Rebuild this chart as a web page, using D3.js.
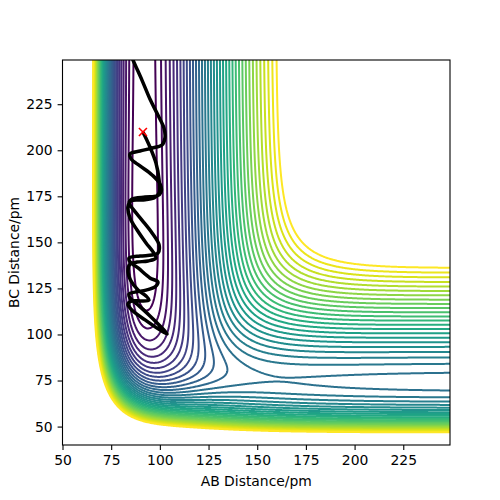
<!DOCTYPE html>
<html>
<head>
<meta charset="utf-8">
<script src="https://cdn.jsdelivr.net/npm/d3@7"></script>
<style>
  body { margin: 0; background: #fff; }
  text { font-family: "DejaVu Sans", sans-serif; }
</style>
</head>
<body>
<div id="chart"></div>
<script>
// Define SVG area dimensions (matplotlib 5x5 figure, default axes box)
var svgWidth = 500;
var svgHeight = 500;
var margin = {top: 60, right: 50, bottom: 55, left: 62.5};
var chartWidth = svgWidth - margin.left - margin.right;
var chartHeight = svgHeight - margin.top - margin.bottom;

// Axis ranges and ticks (pm)
var abRange = [50, 249];
var bcRange = [40, 249];
var abTicks = [50, 75, 100, 125, 150, 175, 200, 225];
var bcTicks = [50, 75, 100, 125, 150, 175, 200, 225];

// LEPS bond parameters: D (kJ/mol), re (pm), a (1/pm), Sato constant
var bondAB = [590.7, 91.7, 0.02219, 0.15];
var bondBC = [458.0, 74.16, 0.01942, 0.30];
var bondAC = [590.7, 91.7, 0.01886, 0.25];

// Contour levels (kJ/mol)
var levels = [-583.3, -573.3, -563.3, -553.3, -543.3, -533.3, -523.3, -513.3, -503.3, -493.3, -483.3, -473.3,
              -463.3, -453.3, -443.3, -433.3, -423.3, -413.3, -403.3, -393.3, -383.3, -373.3, -363.3, -353.3,
              -343.3, -333.3, -323.3, -313.3, -303.3, -293.3, -283.3, -273.3, -263.3, -253.3, -243.3, -233.3];

// Trajectory: AB and BC distances (pm)
var trajAB = [91.3, 94.9, 98.0, 99.6, 99.6, 97.0, 90.8, 85.2, 83.6, 84.7, 88.3, 92.9, 96.5, 98.0, 93.9, 88.3, 84.7, 83.6, 85.2, 88.8, 92.9, 94.4, 90.3, 85.7, 83.6, 86.2, 92.4, 98.5, 103.7,
              100.1, 94.4, 88.8, 84.7, 84.2, 87.7, 92.9, 97.5, 99.0, 94.9, 88.8, 84.7, 84.2, 89.8, 96.0, 99.0, 99.6, 96.0, 90.8, 86.2, 84.2, 85.7, 92.4, 98.5, 100.6, 100.1, 96.0, 89.8, 85.2, 84.7, 89.8, 96.0, 101.1, 102.6, 102.1, 99.0, 94.9, 90.8, 86.2, 84.2];
var trajBC = [209.9, 201.8, 193.1, 183.9, 176.8, 174.1, 173.0, 172.5, 169.2, 163.2, 156.7, 149.7, 144.8, 141.5, 139.9, 139.3, 138.3, 134.5, 129.0, 124.1, 120.9, 118.7, 118.2, 118.2, 116.5, 112.7, 107.9, 103.5, 100.3,
              104.6, 110.6, 116.0, 119.8, 122.0, 123.1, 124.1, 125.8, 128.5, 130.7, 136.1, 139.3, 141.5, 142.6, 143.1, 144.2, 148.6, 155.1, 162.1, 168.1, 171.4, 173.5, 174.6, 175.2, 177.3, 181.7, 186.6, 191.5, 195.3, 198.0, 199.6, 201.2, 202.9, 206.7, 212.1, 219.1, 227.8, 238.1, 249.0, 254.4];
var startPoint = [91.3, 209.9];

// Coulomb and exchange parts of one pair (Sato form)
function coulombExchange(r, p) {
  var D = p[0], re = p[1], a = p[2], S = p[3];
  var e1 = Math.exp(-a * (r - re));
  var e2 = e1 * e1;
  var f = D / (4 * (1 + S));
  return [f * ((3 + S) * e2 - (2 + 6 * S) * e1), f * ((1 + 3 * S) * e2 - (6 + 2 * S) * e1)];
}

// collinear LEPS energy
function leps(rab, rbc) {
  var ab = coulombExchange(rab, bondAB);
  var bc = coulombExchange(rbc, bondBC);
  var ac = coulombExchange(rab + rbc, bondAC);
  var j = 0.5 * ((ab[1] - bc[1]) ** 2 + (bc[1] - ac[1]) ** 2 + (ac[1] - ab[1]) ** 2);
  return ab[0] + bc[0] + ac[0] - Math.sqrt(j);
}

var svg = d3.select("#chart")
  .append("svg")
  .attr("width", svgWidth)
  .attr("height", svgHeight);

var chartGroup = svg.append("g")
  .attr("transform", `translate(${margin.left}, ${margin.top})`);

var xScale = d3.scaleLinear().domain(abRange).range([0, chartWidth]);
var yScale = d3.scaleLinear().domain(bcRange).range([chartHeight, 0]);

// evaluate energy on a grid a little larger than the axes
var step = 0.5;
var gx0 = abRange[0] - 5, gy0 = bcRange[0] - 5;
var nx = Math.round((abRange[1] + 5 - gx0) / step) + 1;
var ny = Math.round((bcRange[1] + 5 - gy0) / step) + 1;
var grid = new Float64Array(nx * ny);
for (var j = 0; j < ny; j++) {
  for (var i = 0; i < nx; i++) {
    grid[j * nx + i] = Math.min(leps(gx0 + i * step, gy0 + j * step), 5000);
  }
}

var contours = d3.contours().size([nx, ny]).thresholds(levels)(grid);

var toScreen = d3.geoTransform({
  point: function(x, y) {
    this.stream.point(xScale(gx0 + (x - 0.5) * step), yScale(gy0 + (y - 0.5) * step));
  }
});
var contourPath = d3.geoPath(toScreen);

var color = d3.scaleSequential(d3.interpolateViridis)
  .domain([levels[0], levels[levels.length - 1]]);

chartGroup.append("clipPath").attr("id", "plotClip")
  .append("rect").attr("width", chartWidth).attr("height", chartHeight);

// contour lines
chartGroup.append("g")
  .attr("clip-path", "url(#plotClip)")
  .selectAll("path")
  .data(contours)
  .enter()
  .append("path")
  .attr("d", contourPath)
  .attr("fill", "none")
  .attr("stroke", d => color(d.value))
  .attr("stroke-width", 2);

// trajectory
var trajLine = d3.line()
  .x((d, i) => xScale(trajAB[i]))
  .y((d, i) => yScale(trajBC[i]))
  .curve(d3.curveCatmullRom);

chartGroup.append("path")
  .attr("clip-path", "url(#plotClip)")
  .attr("d", trajLine(trajAB))
  .attr("fill", "none")
  .attr("stroke", "black")
  .attr("stroke-width", 3.5)
  .attr("stroke-linejoin", "round");

// start marker
var sx = xScale(startPoint[0]), sy = yScale(startPoint[1]);
chartGroup.append("path")
  .attr("d", `M${sx - 4},${sy - 4}L${sx + 4},${sy + 4}M${sx - 4},${sy + 4}L${sx + 4},${sy - 4}`)
  .attr("stroke", "red")
  .attr("stroke-width", 1.6);

// axes
var bottomAxis = d3.axisBottom(xScale).tickValues(abTicks).tickSize(4.9).tickPadding(4.9);
var leftAxis = d3.axisLeft(yScale).tickValues(bcTicks).tickSize(4.9).tickPadding(4.9);

function styleAxis(g) {
  g.select(".domain").remove();
  g.selectAll("text").attr("font-size", 13.9).attr("font-family", "DejaVu Sans").attr("fill", "black");
  g.selectAll("line").attr("stroke", "black").attr("stroke-width", 1.1);
}

chartGroup.append("g")
  .attr("transform", `translate(0, ${chartHeight})`)
  .call(bottomAxis)
  .call(styleAxis);

chartGroup.append("g")
  .call(leftAxis)
  .call(styleAxis);

chartGroup.append("rect")
  .attr("width", chartWidth)
  .attr("height", chartHeight)
  .attr("fill", "none")
  .attr("stroke", "black")
  .attr("stroke-width", 1.1);

// axis labels
chartGroup.append("text")
  .attr("x", chartWidth / 2)
  .attr("y", chartHeight + 40.5)
  .attr("text-anchor", "middle")
  .attr("font-size", 13.9)
  .text("AB Distance/pm");

chartGroup.append("text")
  .attr("transform", "rotate(-90)")
  .attr("x", -chartHeight / 2)
  .attr("y", -43.5)
  .attr("text-anchor", "middle")
  .attr("font-size", 13.9)
  .text("BC Distance/pm");
</script>
</body>
</html>
